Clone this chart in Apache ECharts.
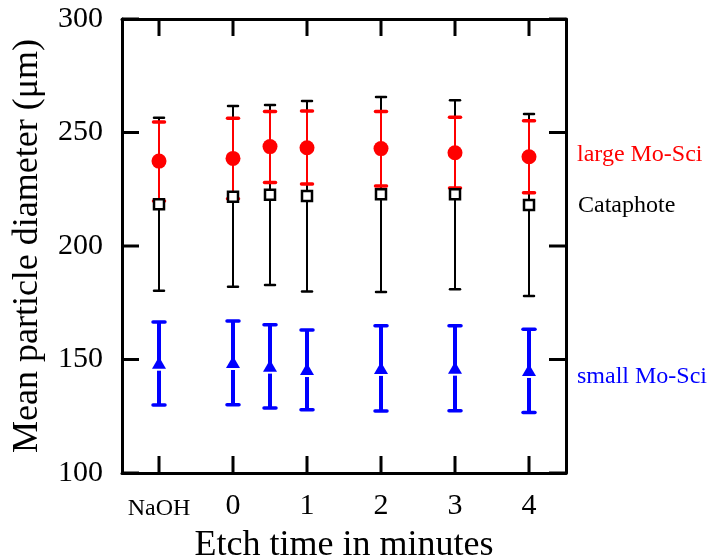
<!DOCTYPE html>
<html>
<head>
<meta charset="utf-8">
<script src="https://cdn.jsdelivr.net/npm/echarts@6/dist/echarts.min.js"></script>
<style>
  html, body { margin: 0; padding: 0; background: #fff; }
  #chart { width: 713px; height: 560px; }
</style>
</head>
<body>
<div id="chart"></div>
<script>
// etch times, NaOH is put at -1
const etchTimes = [-1, 0, 0.5, 1, 2, 3, 4];
const xRange = [-1.5, 4.5];
// half-step positions along the x range, only the whole ones get labels
const xSteps = ['-1.5', '-1', '-0.5', '0', '0.5', '1', '1.5', '2', '2.5', '3', '3.5', '4', '4.5'];
const xTicks = ['-1', '0', '1', '2', '3', '4'];
const xTickLabels = ['NaOH', '0', '1', '2', '3', '4'];
const yTicks = [100, 150, 200, 250, 300];

// large Mo-Sci (red)
const largeMean = [237.4, 238.6, 243.8, 243.3, 242.9, 241.1, 239.3];
const largeLow = [219.8, 220.8, 228.0, 227.3, 226.4, 225.6, 223.5];
const largeHigh = [254.6, 256.3, 259.2, 259.5, 259.3, 256.7, 255.2];

// Cataphote (black)
const cataMean = [218.4, 221.7, 222.6, 222.0, 222.8, 222.8, 218.1];
const cataLow = [180.3, 182.0, 182.8, 180.0, 179.7, 181.0, 178.0];
const cataHigh = [256.5, 261.7, 262.1, 263.9, 265.6, 264.2, 258.1];

// small Mo-Sci (blue)
const smallMean = [148.6, 148.9, 147.3, 145.8, 146.3, 146.4, 145.4];
const smallLow = [130.0, 130.1, 128.6, 127.9, 127.3, 127.4, 126.6];
const smallHigh = [166.5, 167.0, 165.3, 163.0, 164.9, 164.9, 163.3];

const serif = '"Liberation Serif", "DejaVu Serif", serif';
const TICK_LEN = 17;

function barData (low, high, mean) {
  return etchTimes.map((x, i) => [x, low[i], high[i], mean[i]]);
}
function pointData (mean) {
  return etchTimes.map((x, i) => [x, mean[i]]);
}
function isTick (idx, value) {
  return xTicks.indexOf(String(value)) >= 0;
}
function frameLine () {
  return { show: true, onZero: false, lineStyle: { color: '#000', width: 3 } };
}

// inward frame ticks, placed through the axis scales
function tickLine (x1, y1, x2, y2) {
  return { type: 'line', shape: { x1: x1, y1: y1, x2: x2, y2: y2 }, style: { stroke: '#000', lineWidth: 3 } };
}
function xTickItem (params, api) {
  const v = api.value(0);
  const b = api.coord([v, yTicks[0]]);
  const t = api.coord([v, yTicks[yTicks.length - 1]]);
  return { type: 'group', children: [
    tickLine(b[0], b[1], b[0], b[1] - TICK_LEN),
    tickLine(t[0], t[1], t[0], t[1] + TICK_LEN)
  ] };
}
function yTickItem (params, api) {
  const v = api.value(1);
  const l = api.coord([xRange[0], v]);
  const r = api.coord([xRange[1], v]);
  return { type: 'group', children: [
    tickLine(l[0], l[1], l[0] + TICK_LEN, l[1]),
    tickLine(r[0], r[1], r[0] - TICK_LEN, r[1])
  ] };
}

// error bar drawer; gap leaves a little white space under the marker
function errorBars (color, lineW, capW, capLineW, gap) {
  return function (params, api) {
    const x = api.value(0);
    const pLo = api.coord([x, api.value(1)]);
    const pHi = api.coord([x, api.value(2)]);
    const pMid = api.coord([x, api.value(3)]);
    const children = [];
    if (gap) {
      children.push({ type: 'line', shape: { x1: pHi[0], y1: pHi[1], x2: pMid[0], y2: pMid[1] },
        style: { stroke: color, lineWidth: lineW } });
      children.push({ type: 'line', shape: { x1: pLo[0], y1: pLo[1], x2: pMid[0], y2: pMid[1] + gap },
        style: { stroke: color, lineWidth: lineW } });
    } else {
      children.push({ type: 'line', shape: { x1: pHi[0], y1: pHi[1], x2: pLo[0], y2: pLo[1] },
        style: { stroke: color, lineWidth: lineW } });
    }
    [pLo, pHi].forEach(p => {
      children.push({ type: 'line', shape: { x1: p[0] - capW / 2, y1: p[1], x2: p[0] + capW / 2, y2: p[1] },
        style: { stroke: color, lineWidth: capLineW, lineCap: 'round' } });
    });
    return { type: 'group', children: children };
  };
}

const chart = echarts.init(document.getElementById('chart'));

chart.setOption({
  animation: false,
  grid: { left: 122, right: 147, top: 19, bottom: 87, outerBoundsMode: 'none' },
  xAxis: [
    {
      // value axis that places the marks
      type: 'value',
      min: xRange[0],
      max: xRange[1],
      show: false
    },
    {
      type: 'category',
      data: xSteps,
      boundaryGap: false,
      position: 'bottom',
      name: 'Etch time in minutes',
      nameLocation: 'middle',
      nameGap: 55,
      nameTextStyle: { fontFamily: serif, fontSize: 36, color: '#000' },
      axisLine: frameLine(),
      axisTick: { show: false },
      axisLabel: {
        interval: isTick,
        margin: 18,
        fontFamily: serif,
        fontSize: 30,
        color: '#000',
        formatter: v => {
          const lab = xTickLabels[xTicks.indexOf(v)];
          return v === '-1' ? '{s|' + lab + '}' : lab;
        },
        rich: { s: { fontFamily: serif, fontSize: 24, lineHeight: 36, color: '#000' } }
      },
      splitLine: { show: false }
    },
    {
      type: 'category',
      data: xSteps,
      boundaryGap: false,
      position: 'top',
      axisLine: frameLine(),
      axisTick: { show: false },
      axisLabel: { show: false },
      splitLine: { show: false }
    }
  ],
  yAxis: [
    {
      type: 'value',
      min: yTicks[0],
      max: yTicks[yTicks.length - 1],
      interval: 50,
      position: 'left',
      name: 'Mean particle diameter (μm)',
      nameLocation: 'middle',
      nameGap: 76,
      nameTextStyle: { fontFamily: serif, fontSize: 36, color: '#000' },
      axisLine: frameLine(),
      axisTick: { show: false },
      axisLabel: { margin: 19, fontFamily: serif, fontSize: 30, color: '#000' },
      splitLine: { show: false }
    },
    {
      type: 'value',
      min: yTicks[0],
      max: yTicks[yTicks.length - 1],
      interval: 50,
      position: 'right',
      axisLine: frameLine(),
      axisTick: { show: false },
      axisLabel: { show: false },
      splitLine: { show: false }
    }
  ],
  series: [
    {
      name: 'x ticks',
      type: 'custom',
      zlevel: 1,
      z: 100,
      clip: false,
      silent: true,
      renderItem: xTickItem,
      data: xTicks.map(v => [Number(v), yTicks[0]])
    },
    {
      name: 'y ticks',
      type: 'custom',
      zlevel: 1,
      z: 100,
      clip: false,
      silent: true,
      renderItem: yTickItem,
      data: yTicks.map(v => [etchTimes[0], v])
    },
    {
      name: 'Cataphote bars',
      type: 'custom',
      renderItem: errorBars('#000', 2, 10, 2.5, 0),
      data: barData(cataLow, cataHigh, cataMean)
    },
    {
      name: 'Cataphote',
      type: 'scatter',
      symbol: 'rect',
      symbolSize: 10,
      itemStyle: { color: '#fff', borderColor: '#000', borderWidth: 2.5, opacity: 1 },
      data: pointData(cataMean)
    },
    {
      name: 'large Mo-Sci bars',
      type: 'custom',
      renderItem: errorBars('#ff0000', 2, 11, 3.5, 0),
      data: barData(largeLow, largeHigh, largeMean)
    },
    {
      name: 'large Mo-Sci',
      type: 'scatter',
      symbol: 'circle',
      symbolSize: 15,
      itemStyle: { color: '#ff0000', opacity: 1 },
      data: pointData(largeMean)
    },
    {
      name: 'small Mo-Sci bars',
      type: 'custom',
      renderItem: errorBars('#0000ff', 4, 12, 3.5, 8),
      data: barData(smallLow, smallHigh, smallMean)
    },
    {
      name: 'small Mo-Sci',
      type: 'scatter',
      symbol: 'triangle',
      symbolSize: [14, 12],
      itemStyle: { color: '#0000ff', opacity: 1 },
      data: pointData(smallMean)
    }
  ],
  graphic: [
    { type: 'text', left: 577, top: 143, style: { text: 'large Mo-Sci', fill: '#ff0000', font: '24px ' + serif } },
    { type: 'text', left: 578, top: 194, style: { text: 'Cataphote', fill: '#000', font: '24px ' + serif } },
    { type: 'text', left: 577, top: 365, style: { text: 'small Mo-Sci', fill: '#0000ff', font: '24px ' + serif } }
  ]
});
</script>
</body>
</html>
